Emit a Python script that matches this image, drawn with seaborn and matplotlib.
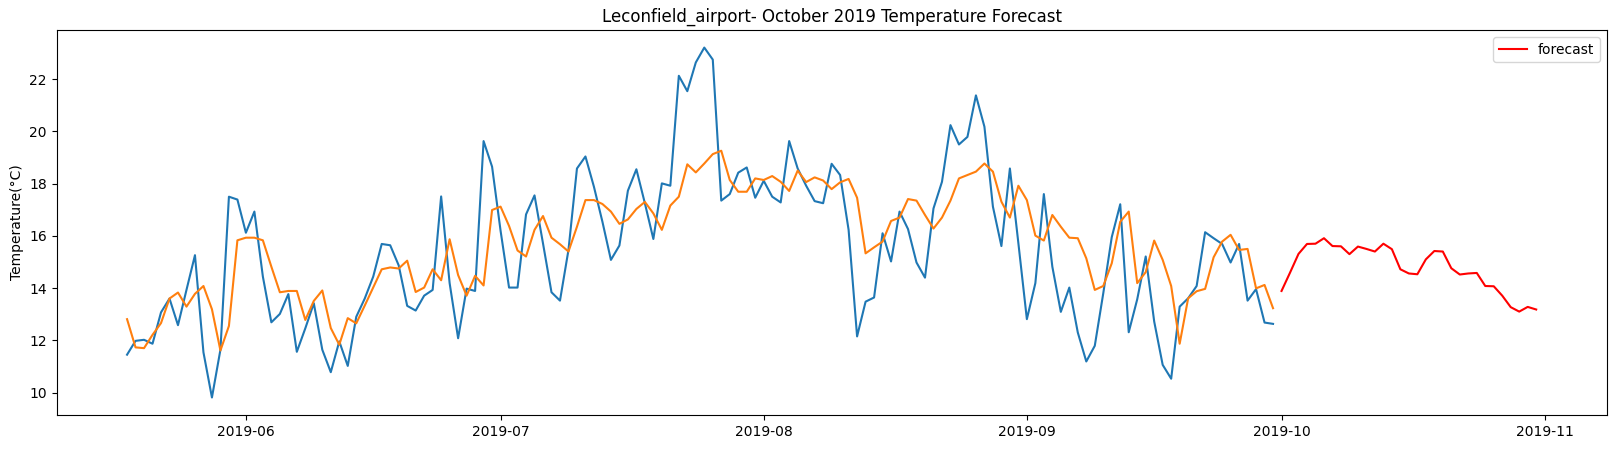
import numpy as np
import pandas as pd
import seaborn as sns
import matplotlib.pyplot as plt

# observed daily temps (18 May - 30 Sep 2019)
observed = [11.45, 11.98, 12.02, 11.87, 13.07, 13.6, 12.58, 13.93, 15.26, 11.54,
            9.81, 11.64, 17.5, 17.39, 16.12, 16.93, 14.44, 12.69, 13.01, 13.77,
            11.56, 12.46, 13.42, 11.64, 10.78, 11.96, 11.02, 12.9, 13.6, 14.44,
            15.69, 15.64, 14.87, 13.32, 13.14, 13.71, 13.93, 17.51, 14.19, 12.08,
            13.98, 13.89, 19.63, 18.65, 16.2, 14.02, 14.02, 16.82, 17.55, 15.71,
            13.84, 13.52, 15.46, 18.58, 19.04, 17.88, 16.54, 15.08, 15.63, 17.73,
            18.55, 17.25, 15.88, 18.01, 17.92, 22.13, 21.54, 22.64, 23.21, 22.75,
            17.35, 17.6, 18.42, 18.62, 17.46, 18.11, 17.5, 17.28, 19.63, 18.58,
            17.92, 17.33, 17.25, 18.76, 18.33, 16.23, 12.15, 13.48, 13.64, 16.1,
            15.02, 16.93, 16.26, 14.98, 14.4, 17.05, 18.07, 20.24, 19.5, 19.79,
            21.38, 20.18, 17.12, 15.61, 18.58, 15.72, 12.81, 14.19, 17.6, 14.82,
            13.09, 14.02, 12.3, 11.19, 11.79, 13.8, 15.95, 17.21, 12.31, 13.57,
            15.21, 12.72, 11.06, 10.53, 13.29, 13.61, 14.08, 16.14, 15.91, 15.69,
            14.98, 15.69, 13.52, 13.96, 12.68, 12.63]

# fitted values
fitted = [12.81, 11.73, 11.7, 12.21, 12.66, 13.6, 13.83, 13.29, 13.78, 14.08,
          13.19, 11.61, 12.55, 15.83, 15.93, 15.93, 15.83, 14.82, 13.84, 13.89,
          13.89, 12.78, 13.51, 13.91, 12.47, 11.83, 12.85, 12.65, 13.33, 14.03,
          14.72, 14.79, 14.75, 15.05, 13.85, 14.02, 14.72, 14.3, 15.87, 14.5,
          13.71, 14.47, 14.1, 16.99, 17.12, 16.38, 15.44, 15.21, 16.23, 16.76,
          15.93, 15.68, 15.4, 16.35, 17.37, 17.37, 17.22, 16.93, 16.46, 16.63,
          17.03, 17.3, 16.86, 16.23, 17.16, 17.5, 18.74, 18.43, 18.77, 19.13,
          19.26, 18.14, 17.69, 17.69, 18.2, 18.14, 18.29, 18.07, 17.72, 18.5,
          18.06, 18.24, 18.12, 17.79, 18.05, 18.18, 17.46, 15.33, 15.56, 15.78,
          16.57, 16.7, 17.41, 17.35, 16.8, 16.28, 16.7, 17.35, 18.2, 18.33,
          18.46, 18.77, 18.46, 17.31, 16.7, 17.92, 17.37, 16.01, 15.82, 16.8,
          16.35, 15.93, 15.91, 15.14, 13.93, 14.08, 14.95, 16.54, 16.93, 14.19,
          14.61, 15.82, 15.08, 14.08, 11.87, 13.61, 13.88, 13.97, 15.18, 15.78,
          16.04, 15.46, 15.5, 13.99, 14.12, 13.23]

# October forecast
forecast = [13.89, 14.59, 15.31, 15.69, 15.7, 15.91, 15.61, 15.6, 15.3, 15.59,
            15.5, 15.4, 15.7, 15.49, 14.72, 14.56, 14.53, 15.1, 15.42, 15.4,
            14.76, 14.52, 14.56, 14.58, 14.08, 14.07, 13.71, 13.27, 13.1, 13.28,
            13.18]

hist_dates = pd.date_range('2019-05-18', periods=len(observed), freq='D')
fc_dates = pd.date_range('2019-10-01', periods=len(forecast), freq='D')

fig, ax = plt.subplots(figsize=(16.17, 4.49), dpi=100)
fig.subplots_adjust(left=0.035, right=0.9936, top=0.933, bottom=0.0757)

sns.lineplot(x=hist_dates, y=observed, color='#1f77b4', ax=ax)
sns.lineplot(x=hist_dates, y=fitted, color='#ff7f0e', ax=ax)
sns.lineplot(x=fc_dates, y=forecast, color='red', label='forecast', ax=ax)

ax.set_title('Leconfield_airport- October 2019 Temperature Forecast')
ax.set_ylabel('Temperature(°C)')
ax.set_xlabel('')
ax.legend(loc='upper right')

plt.savefig('out.png', dpi=100)
